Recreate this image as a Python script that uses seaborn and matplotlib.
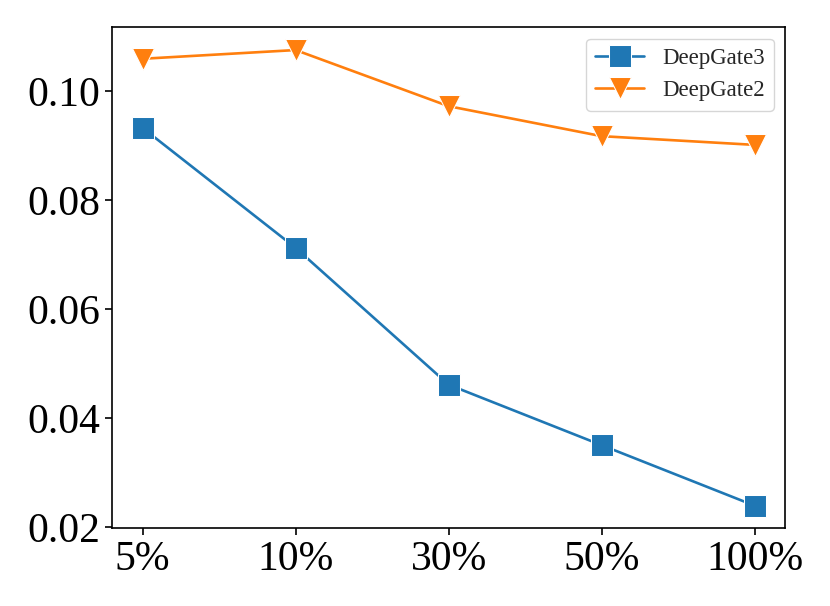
import pandas as pd
import seaborn as sns
import matplotlib.pyplot as plt

# ratio of training data
ratios = ['5%', '10%', '30%', '50%', '100%']
deepgate3 = [0.0932, 0.0712, 0.0461, 0.0350, 0.0239]
deepgate2 = [0.1059, 0.1075, 0.0972, 0.0917, 0.0901]

df = pd.DataFrame({'ratio': ratios * 2,
                   'value': deepgate3 + deepgate2,
                   'model': ['DeepGate3'] * 5 + ['DeepGate2'] * 5})
df['pos'] = list(range(len(ratios))) * 2

sns.set_style("ticks")
plt.rcParams['font.family'] = ['Liberation Serif', 'DejaVu Serif']

fig, ax = plt.subplots(figsize=(8.3, 6.06), dpi=100)
my_pal = {'DeepGate3': '#1f77b4', 'DeepGate2': '#ff7f0e'}
sns.lineplot(data=df, x='pos', y='value', hue='model', style='model',
             palette=my_pal, markers={'DeepGate3': 's', 'DeepGate2': 'v'},
             dashes=False, markersize=16, linewidth=1.9, ax=ax)

ax.set_xticks(range(len(ratios)))
ax.set_xticklabels(ratios)
ax.set_yticks([0.02, 0.04, 0.06, 0.08, 0.10])
ax.set_yticklabels(['0.02', '0.04', '0.06', '0.08', '0.10'])
ax.tick_params(labelsize=30, width=1.2, length=5, colors='black')
for s in ax.spines.values():
    s.set_color('black')
    s.set_linewidth(1.2)
ax.set_xlabel('')
ax.set_ylabel('')
ax.legend(title=None, loc='upper right', fontsize=16.5, handlelength=2.1)

fig.subplots_adjust(left=0.135, right=0.946, top=0.955, bottom=0.128)
fig.savefig('out.png')
